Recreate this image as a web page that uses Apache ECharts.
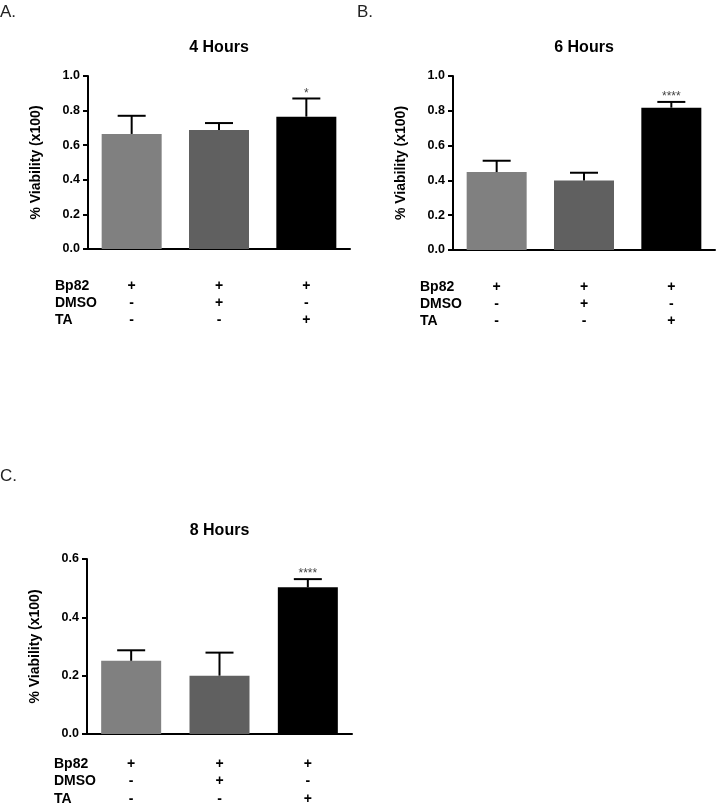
<!DOCTYPE html>
<html>
<head>
<meta charset="utf-8">
<script src="https://cdn.jsdelivr.net/npm/echarts@6/dist/echarts.min.js"></script>
<style>html,body{margin:0;padding:0;background:#fff}#c{width:716px;height:803px}</style>
</head>
<body>
<div id="c"></div>
<script>
// ---- data ----
const rowLabels = ['Bp82', 'DMSO', 'TA'];
const bp82Flags = ['+', '+', '+'];
const dmsoFlags = ['-', '+', '-'];
const taFlags   = ['-', '-', '+'];
const barColors = ['#808080', '#606060', '#000000'];

const titles = ['4 Hours', '6 Hours', '8 Hours'];
const panelLetters = ['A.', 'B.', 'C.'];

const mean4 = [0.665, 0.688, 0.765];
const err4  = [0.105, 0.040, 0.105];
const sig4  = ['', '', '*'];

const mean6 = [0.448, 0.399, 0.818];
const err6  = [0.065, 0.045, 0.033];
const sig6  = ['', '', '****'];

const mean8 = [0.251, 0.200, 0.503];
const err8  = [0.036, 0.079, 0.028];
const sig8  = ['', '', '****'];

const yMax = [1.0, 1.0, 0.6];
const yInterval = 0.2;

// ---- build ----
const categories = bp82Flags.map((b, i) => b + '\n' + dmsoFlags[i] + '\n' + taFlags[i]);
const means = [mean4, mean6, mean8];
const errs = [err4, err6, err8];
const sigs = [sig4, sig6, sig8];

const FONT = '"Liberation Sans", Arial, sans-serif';
const grids = [
  {left: 88, top: 76, width: 262, height: 173, outerBoundsMode: 'none', containLabel: false},
  {left: 453, top: 76, width: 262, height: 174, outerBoundsMode: 'none', containLabel: false},
  {left: 87, top: 559, width: 265, height: 175, outerBoundsMode: 'none', containLabel: false}
];
const labelMargins = [28.5, 28.5, 21];
const labelLineH = [17, 17, 17.5];

const xAxes = [], yAxes = [], series = [], graphics = [];
grids.forEach((g, k) => {
  xAxes.push({
    type: 'category', gridIndex: k, data: categories,
    axisLine: {lineStyle: {color: '#000', width: 2}},
    axisTick: {alignWithLabel: true, length: 5, lineStyle: {color: '#000', width: 2}},
    axisLabel: {margin: labelMargins[k], lineHeight: labelLineH[k], color: '#000',
      fontFamily: FONT, fontWeight: 'bold', fontSize: 14, hideOverlap: false}
  });
  yAxes.push({
    type: 'value', gridIndex: k, min: 0, max: yMax[k], interval: yInterval,
    name: '% Viability (x100)', nameLocation: 'middle', nameGap: 45,
    nameTextStyle: {color: '#000', fontFamily: FONT, fontWeight: 'bold', fontSize: 14},
    axisLine: {show: true, lineStyle: {color: '#000', width: 2}},
    axisTick: {show: true, length: 5, lineStyle: {color: '#000', width: 2}},
    splitLine: {show: false},
    axisLabel: {margin: 8, color: '#000', fontFamily: FONT, fontWeight: 'bold', fontSize: 12.5,
      formatter: v => v.toFixed(1)}
  });
  series.push({
    type: 'bar', xAxisIndex: k, yAxisIndex: k, barWidth: 60, z: 2,
    data: means[k].map((v, i) => ({value: v, itemStyle: {color: barColors[i]}}))
  });
  series.push({
    type: 'custom', xAxisIndex: k, yAxisIndex: k, z: 3,
    data: means[k].map((v, i) => [i, v, +(v + errs[k][i]).toFixed(3), sigs[k][i]]),
    renderItem: function (params, api) {
      const base = api.coord([api.value(0), api.value(1)]);
      const top = api.coord([api.value(0), api.value(2)]);
      const s = sigs[k][params.dataIndex];
      const hw = 14;
      const children = [
        {type: 'line', shape: {x1: base[0], y1: base[1], x2: top[0], y2: top[1]},
          style: {stroke: '#000', lineWidth: 2}},
        {type: 'line', shape: {x1: top[0] - hw, y1: top[1], x2: top[0] + hw, y2: top[1]},
          style: {stroke: '#000', lineWidth: 2}}
      ];
      if (s) {
        children.push({type: 'text', x: top[0], y: top[1] - 5,
          style: {text: s, textAlign: 'center', textVerticalAlign: 'middle',
            fill: '#444', font: '12px ' + FONT}});
      }
      return {type: 'group', children: children};
    }
  });
  // title
  graphics.push({type: 'text', x: g.left + g.width / 2, y: g.top - 28,
    style: {text: titles[k], textAlign: 'center', textVerticalAlign: 'middle',
      fill: '#000', font: 'bold 16px ' + FONT}});
  // row labels of the condition table
  const firstY = g.top + g.height + labelMargins[k] + labelLineH[k] / 2;
  rowLabels.forEach((r, j) => {
    graphics.push({type: 'text', x: g.left - 33, y: firstY + j * labelLineH[k],
      style: {text: r, textAlign: 'left', textVerticalAlign: 'middle',
        fill: '#000', font: 'bold 14px ' + FONT}});
  });
});
// panel letters
[[0, 12], [357, 12], [0, 476]].forEach((p, k) => {
  graphics.push({type: 'text', x: p[0], y: p[1],
    style: {text: panelLetters[k], textAlign: 'left', textVerticalAlign: 'middle',
      fill: '#222', font: '17px ' + FONT}});
});

const chart = echarts.init(document.getElementById('c'), null, {renderer: 'canvas'});
chart.setOption({
  animation: false,
  backgroundColor: '#fff',
  grid: grids,
  xAxis: xAxes,
  yAxis: yAxes,
  series: series,
  graphic: graphics
});
</script>
</body>
</html>
